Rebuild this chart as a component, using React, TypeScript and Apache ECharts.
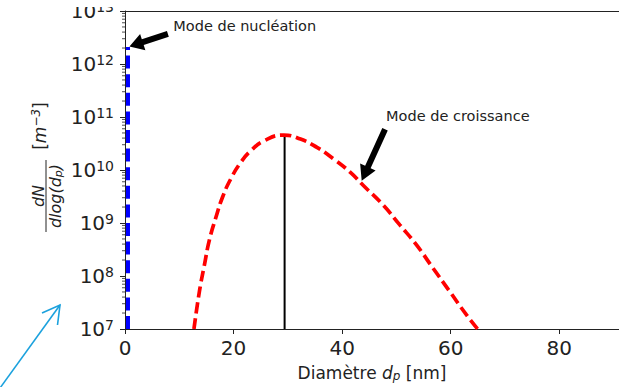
import React, { useEffect, useRef } from "react";
import * as echarts from "echarts";

// Growth mode (red dashed curve)
const growthDiameter = [12.7, 13.72, 14.64, 15.55, 16.78, 17.98, 19.52, 21.35, 23.18, 25.61, 29.27, 32.33, 35.36, 38.42, 41.47, 43.91, 47.57, 50.62, 53.66, 56.71, 59.77, 62.81, 64.95];
const growthConc = [1.0e7, 5.2e7, 1.64e8, 4.8e8, 1.31e9, 3.1e9, 6.9e9, 1.4e10, 2.31e10, 3.56e10, 4.55e10, 3.83e10, 2.67e10, 1.62e10, 9.1e9, 5.1e9, 2.17e9, 9.2e8, 3.9e8, 1.42e8, 5.2e7, 1.9e7, 1.0e7];

// Nucleation mode (blue dashed vertical line)
const nucleationDiameter = [0.55, 0.55];
const nucleationConc = [1e7, 2.1e12];

// Peak marker of growth mode (black line)
const peakDiameter = [29.4, 29.4];
const peakConc = [1e7, 4.55e10];

// Axes
const xMin = 0;
const xMax = 91;
const xInterval = 20;
const yMin = 1e7;
const yMax = 1e13;
const minorMultipliers = [2, 3, 4, 5, 6, 7, 8, 9];
const decadeExponents = [7, 8, 9, 10, 11, 12];

// Annotations (data coordinates)
const nucleationText = "Mode de nucléation";
const nucleationTextPos = [8.9, 5.2e12];
const nucleationArrowTail = [7.9, 3.7e12];
const nucleationArrowTip = [0.82, 2.14e12];

const growthText = "Mode de croissance";
const growthTextPos = [48.1, 1.05e11];
const growthArrowTail = [47.9, 5.9e10];
const growthArrowTip = [43.6, 6.3e9];

const TXT = "#222";
const FONT = "DejaVu Sans";

function arrowPolygon(tail: number[], tip: number[], shaft: number, headW: number, headL: number) {
  const dx = tip[0] - tail[0];
  const dy = tip[1] - tail[1];
  const L = Math.hypot(dx, dy);
  const ux = dx / L, uy = dy / L;
  const nx = -uy, ny = ux;
  const bx = tip[0] - ux * headL, by = tip[1] - uy * headL;
  return [
    [tail[0] + (nx * shaft) / 2, tail[1] + (ny * shaft) / 2],
    [bx + (nx * shaft) / 2, by + (ny * shaft) / 2],
    [bx + (nx * headW) / 2, by + (ny * headW) / 2],
    [tip[0], tip[1]],
    [bx - (nx * headW) / 2, by - (ny * headW) / 2],
    [bx - (nx * shaft) / 2, by - (ny * shaft) / 2],
    [tail[0] - (nx * shaft) / 2, tail[1] - (ny * shaft) / 2],
  ];
}

const App = () => {
  const ref = useRef<HTMLDivElement>(null);
  useEffect(() => {
    const chart = echarts.init(ref.current!, null, { renderer: "svg" });
    const minorTicks: number[][] = [];
    decadeExponents.forEach((e) => minorMultipliers.forEach((m) => minorTicks.push([xMin, m * Math.pow(10, e)])));

    const option: any = {
      animation: false,
      backgroundColor: "#fff",
      textStyle: { fontFamily: FONT },
      grid: { left: 125, top: 9, width: 497.4, height: 321, containLabel: false },
      xAxis: [
        {
          type: "value",
          min: xMin,
          max: xMax,
          interval: xInterval,
          position: "bottom",
          axisLine: { show: true, onZero: false, lineStyle: { color: TXT, width: 1 } },
          axisTick: { show: true, length: 5, lineStyle: { color: TXT, width: 1 } },
          axisLabel: { color: TXT, fontSize: 20, margin: 9, fontFamily: FONT, showMaxLabel: false },
          splitLine: { show: false },
          name: "Diamètre {i|d}{sub|p} [nm]",
          nameLocation: "middle",
          nameGap: 34,
          nameTextStyle: {
            color: TXT,
            fontSize: 17,
            fontFamily: FONT,
            rich: {
              i: { fontSize: 17, fontStyle: "italic", color: TXT, fontFamily: FONT },
              sub: { fontSize: 12, fontStyle: "italic", color: TXT, fontFamily: FONT, verticalAlign: "bottom", padding: [7, 0, 0, 0] },
            },
          },
        },
        {
          type: "value",
          min: xMin,
          max: xMax,
          position: "top",
          axisLine: { show: true, onZero: false, lineStyle: { color: TXT, width: 1 } },
          axisTick: { show: false },
          axisLabel: { show: false },
          splitLine: { show: false },
        },
      ],
      yAxis: {
        type: "log",
        logBase: 10,
        min: yMin,
        max: yMax,
        splitNumber: 6,
        axisLine: { show: true, onZero: false, lineStyle: { color: TXT, width: 1 } },
        axisTick: { show: true, length: 5, lineStyle: { color: TXT, width: 1 } },
        axisLabel: {
          margin: 11,
          formatter: (v: number) => `{b|10}{s|${Math.round(Math.log10(v))}}`,
          rich: {
            b: { fontSize: 20, color: TXT, fontFamily: FONT, lineHeight: 22 },
            s: { fontSize: 14, color: TXT, fontFamily: FONT, verticalAlign: "top", lineHeight: 16 },
          },
        },
        splitLine: { show: false },
      },
      series: [
        {
          type: "line",
          data: nucleationDiameter.map((x, i) => [x, nucleationConc[i]]),
          showSymbol: false,
          lineStyle: { color: "#0000ff", width: 4, type: [13, 5.6] },
          z: 4,
        },
        {
          type: "line",
          data: growthDiameter.map((x, i) => [x, growthConc[i]]),
          showSymbol: false,
          smooth: 0.5,
          lineStyle: { color: "#ff0000", width: 3.7, type: [11, 5] },
          z: 3,
        },
        {
          type: "line",
          data: peakDiameter.map((x, i) => [x, peakConc[i]]),
          showSymbol: false,
          lineStyle: { color: "#000", width: 2 },
          z: 2,
        },
        {
          type: "custom",
          data: minorTicks,
          silent: true,
          clip: false,
          renderItem: (params: any, api: any) => {
            const p = api.coord([api.value(0), api.value(1)]);
            return {
              type: "line",
              shape: { x1: p[0] - 3, y1: p[1], x2: p[0], y2: p[1] },
              style: { stroke: TXT, lineWidth: 0.8 },
            };
          },
          z: 5,
        },
      ],
    };
    chart.setOption(option);

    const px = (p: number[]) => chart.convertToPixel({ xAxisIndex: 0, yAxisIndex: 0 }, p) as number[];
    const nTip = px(nucleationArrowTip), nTail = px(nucleationArrowTail), nText = px(nucleationTextPos);
    const gTip = px(growthArrowTip), gTail = px(growthArrowTail), gText = px(growthTextPos);

    chart.setOption({
      graphic: [
        {
          type: "polygon",
          shape: { points: arrowPolygon(nTail, nTip, 6, 17, 14) },
          style: { fill: "#000" },
          z: 100,
        },
        {
          type: "text",
          x: nText[0],
          y: nText[1],
          style: { text: nucleationText, fill: TXT, font: `14.5px "${FONT}"`, textAlign: "left", textVerticalAlign: "middle" },
          z: 100,
        },
        {
          type: "polygon",
          shape: { points: arrowPolygon(gTail, gTip, 6, 17, 15) },
          style: { fill: "#000" },
          z: 100,
        },
        {
          type: "text",
          x: gText[0],
          y: gText[1],
          style: { text: growthText, fill: TXT, font: `14.5px "${FONT}"`, textAlign: "left", textVerticalAlign: "middle" },
          z: 100,
        },
        // the reference image is cropped just above the top spine
        {
          type: "rect",
          shape: { x: 0, y: 0, width: 122, height: 7 },
          style: { fill: "#fff" },
          z: 200,
        },
        // y-axis title: dN / dlog(d_p) [m^-3], rotated
        {
          type: "group",
          x: 46,
          y: 196,
          rotation: Math.PI / 2,
          children: [
            { type: "line", shape: { x1: -36, y1: 0, x2: 36, y2: 0 }, style: { stroke: TXT, lineWidth: 1 } },
            {
              type: "text",
              x: 0,
              y: -8,
              style: { text: "dN", fill: TXT, font: `italic 16px "${FONT}"`, textAlign: "center", textVerticalAlign: "middle" },
            },
            {
              type: "text",
              x: 0,
              y: 9,
              style: {
                text: "{a|dlog(d}{s|p}{a|)}",
                textAlign: "center",
                textVerticalAlign: "middle",
                rich: {
                  a: { fontSize: 16, fontStyle: "italic", fill: TXT, fontFamily: FONT, lineHeight: 18 },
                  s: { fontSize: 11, fontStyle: "italic", fill: TXT, fontFamily: FONT, verticalAlign: "bottom", lineHeight: 11 },
                },
              },
            },
            {
              type: "text",
              x: 70,
              y: -6,
              style: {
                text: "{a|[}{i|m}{s|−3}{a|]}",
                textAlign: "center",
                textVerticalAlign: "middle",
                rich: {
                  a: { fontSize: 17, fill: TXT, fontFamily: FONT, lineHeight: 20 },
                  i: { fontSize: 17, fontStyle: "italic", fill: TXT, fontFamily: FONT, lineHeight: 20 },
                  s: { fontSize: 12, fontStyle: "italic", fill: TXT, fontFamily: FONT, verticalAlign: "top", lineHeight: 12 },
                },
              },
            },
          ],
        },
        // light-blue pointer arrow in the lower-left corner
        {
          type: "line",
          shape: { x1: 0, y1: 388, x2: 60, y2: 305 },
          style: { stroke: "#1ba1dd", lineWidth: 1.6 },
        },
        {
          type: "polyline",
          shape: { points: [[42, 313], [60, 305], [57.5, 325]] },
          style: { stroke: "#1ba1dd", lineWidth: 1.6, fill: null },
        },
      ],
    });

    return () => chart.dispose();
  }, []);
  return <div ref={ref} style={{ position: "fixed", left: 0, top: 0, width: 619, height: 387 }} />;
};

export default App;
